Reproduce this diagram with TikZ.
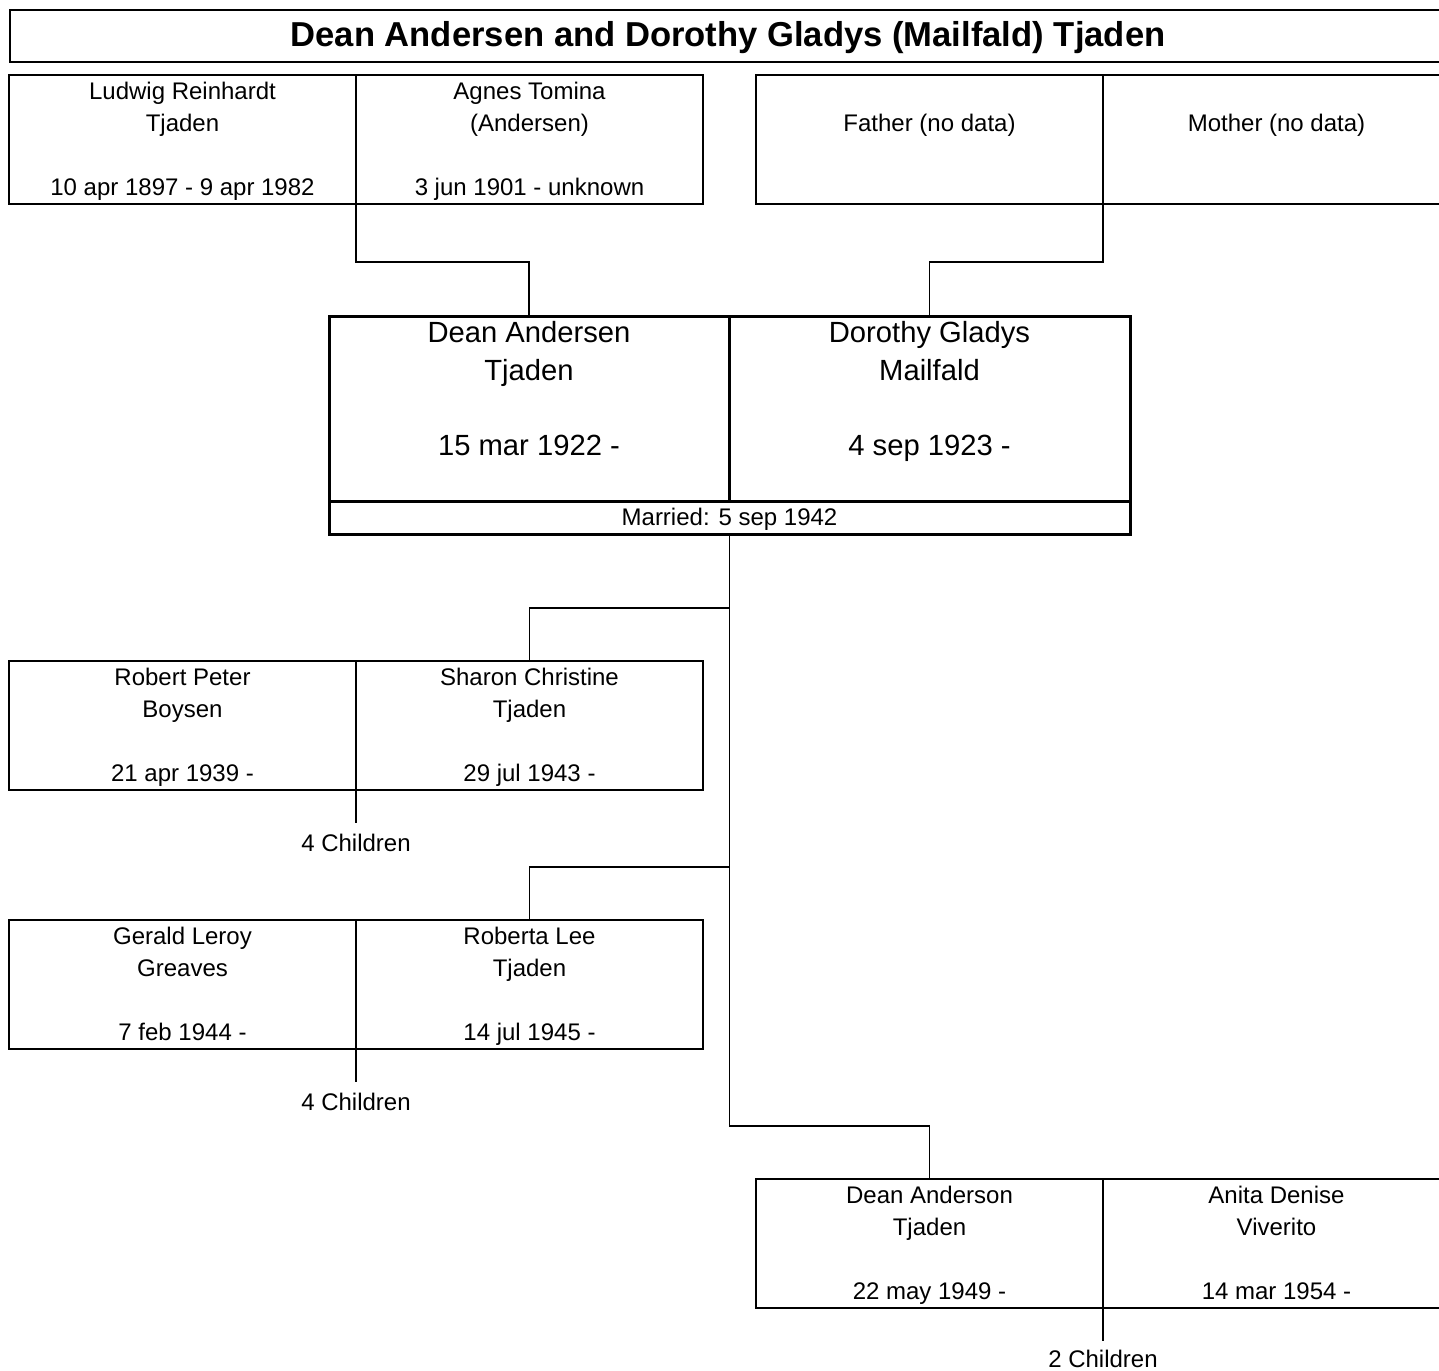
\documentclass[tikz,border=0pt]{standalone}
\usepackage{fontspec}
\setmainfont{Liberation Sans}
\usetikzlibrary{positioning}

\tikzset{
  cell/.style={draw, line width=0.6pt, anchor=north west, inner sep=0pt, outer sep=0pt,
    minimum width=173.5pt, minimum height=64.5pt, align=center,
    font=\fontsize{12}{16}\selectfont, text height=58pt, text depth=2.5pt},
  maincell/.style={cell, line width=1.5pt, minimum width=200pt, minimum height=92.5pt,
    font=\fontsize{14.6}{18.7}\selectfont, text height=50pt, text depth=3.5pt},
  kids/.style={inner sep=6pt, font=\fontsize{12}{16}\selectfont},
  link/.style={line width=0.6pt},
}

\begin{document}
\begin{tikzpicture}[x=0.5pt,y=-0.5pt,line cap=rect]
  \useasboundingbox (0,0) rectangle (1439,1370);
  \node[draw, line width=1pt, anchor=north west, inner sep=0pt, minimum width=730pt, minimum height=26pt] (title) at (9,9) {};
  \node[font=\bfseries\fontsize{17.3}{20}\selectfont, text height=11.6pt, text depth=0pt, inner sep=0pt]
    (titletext) at (728,35) {Dean Andersen and Dorothy Gladys (Mailfald) Tjaden};
  % parents
  \node[cell] (ludwig) at (9,75) {Ludwig Reinhardt\\Tjaden\\\strut\\10 apr 1897 - 9 apr 1982};
  \node[cell] (agnes) at (356,75) {Agnes Tomina\\(Andersen)\\\strut\\3 jun 1901 - unknown};
  \node[cell] (father) at (756,75) {Father (no data)\\\strut\\\strut};
  \node[cell] (mother) at (1103,75) {Mother (no data)\\\strut\\\strut};
  % couple
  \node[maincell] (dean) at (329,316) {Dean Andersen\\Tjaden\\\strut\\15 mar 1922 -};
  \node[maincell, minimum width=200.5pt] (dorothy) at (729,316) {Dorothy Gladys\\Mailfald\\\strut\\4 sep 1923 -};
  \node[cell, line width=1.5pt, minimum width=400.5pt, minimum height=16.5pt, text height=10pt, text depth=1.9pt]
    (married) at (329,501) {Married: 5 sep 1942};
  \draw[link] (ludwig.south east) -- ++(0,58) -| (dean.north);
  \draw[link] (father.south east) -- ++(0,58) -| (dorothy.north);
  % children
  \node[cell] (robert) at (9,661) {Robert Peter\\Boysen\\\strut\\21 apr 1939 -};
  \node[cell] (sharon) at (356,661) {Sharon Christine\\Tjaden\\\strut\\29 jul 1943 -};
  \node[cell] (gerald) at (9,920) {Gerald Leroy\\Greaves\\\strut\\7 feb 1944 -};
  \node[cell] (roberta) at (356,920) {Roberta Lee\\Tjaden\\\strut\\14 jul 1945 -};
  \node[cell] (deanjr) at (756,1179) {Dean Anderson\\Tjaden\\\strut\\22 may 1949 -};
  \node[cell] (anita) at (1103,1179) {Anita Denise\\Viverito\\\strut\\14 mar 1954 -};
  \draw[link] (married.south) -- ++(0,592) -| (deanjr.north);
  \draw[link] (married.south) -- ++(0,74) -| (sharon.north);
  \draw[link] (married.south) -- ++(0,333) -| (roberta.north);
  \node[kids, below=16pt of robert.south east] (kids1) {4 Children};
  \node[kids, below=16pt of gerald.south east] (kids2) {4 Children};
  \node[kids, inner ysep=4.8pt, below=16pt of deanjr.south east] (kids3) {2 Children};
  \draw[link] (robert.south east) -- (kids1.north);
  \draw[link] (gerald.south east) -- (kids2.north);
  \draw[link] (deanjr.south east) -- (kids3.north);
\end{tikzpicture}
\end{document}
